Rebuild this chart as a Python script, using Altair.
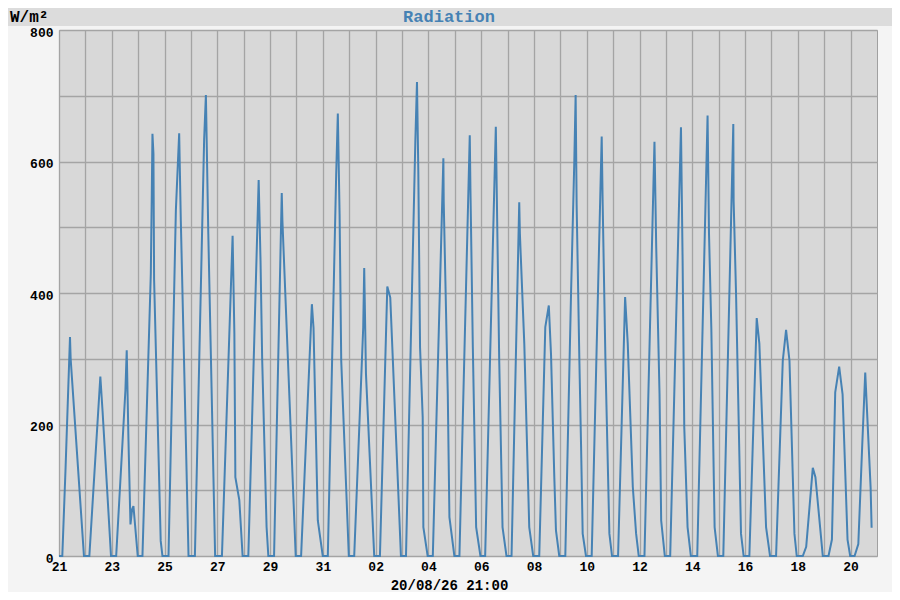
import pandas as pd
import altair as alt

alt.data_transformers.disable_max_rows()

start = "2026-07-21"
stamp = "20/08/26 21:00"
unit = "W/m²"
heading = "Radiation"

# one list per day (21 Jul .. 20 Aug): hour of day and W/m2 at each bend of the curve
day_hours = [
    [0, 3.0, 6.0, 10.0, 10.6, 22.7],                     # 21
    [3.6, 13.6, 15.6, 23.3],                             # 22
    [4.0, 12.4, 13.6, 15.2, 17.0, 18.5, 19.7, 23.6],     # 23
    [3.9, 11.5, 12.4, 13.0, 13.9, 14.5, 20.5, 22.1],     # 24
    [3.6, 10.3, 13.3, 14.8, 21.8],                       # 25
    [3.6, 12.0, 13.6, 15.8, 22.0],                       # 26
    [4.2, 13.9, 15.5, 16.4, 20.0, 23.0],                 # 27
    [4.2, 13.6, 15.3, 16.8, 20.8, 22.4],                 # 28
    [3.6, 10.6, 11.2, 23.3],                             # 29
    [4.2, 14.0, 15.5, 19.4, 23.9],                       # 30
    [4.5, 12.1, 13.6, 15.2, 16.7, 23.6],                 # 31
    [4.5, 12.7, 13.6, 15.2, 22.7],                       # 01
    [3.9, 10.6, 13.3, 23.0],                             # 02
    [3.6, 12.1, 13.6, 14.8, 16.4, 18.8, 19.4, 23.3],     # 03
    [4.0, 13.6, 13.9, 17.6, 19.1, 23.6],                 # 04
    [4.2, 13.6, 14.2, 16.4, 19.4, 23.3],                 # 05
    [3.6, 13.3, 16.4, 19.4, 23.0],                       # 06
    [3.6, 10.6, 11.2, 15.2, 19.7, 23.3],                 # 07
    [4.8, 10.3, 13.5, 15.5, 18.5, 20.0, 23.0],           # 08
    [4.5, 9.7, 12.7, 13.9, 14.8, 17.3, 18.8, 20.3, 23.3],  # 09
    [4.5, 13.6, 14.5, 17.0, 20.6, 23.0],                 # 10
    [4.5, 10.9, 13.3, 17.9, 20.9, 23.3],                 # 11
    [4.5, 13.6, 15.2, 18.2, 19.7, 23.0],                 # 12
    [3.9, 13.7, 15.2, 16.7, 19.7, 22.7],                 # 13
    [4.5, 13.9, 15.2, 17.3, 20.3, 23.3],                 # 14
    [4.2, 13.3, 13.6, 15.8, 20.3, 22.7],                 # 15
    [3.9, 10.6, 13.0, 19.1, 22.7],                       # 16
    [4.2, 10.3, 13.3, 16.4, 20.9, 23.0],                 # 17
    [4.5, 7.6, 13.6, 16.0, 22.7],                        # 18
    [3.9, 7.0, 10.0, 13.6, 16.7, 21.2, 23.6],            # 19
    [3.6, 7.0, 10.6, 13.3, 14.5, 18.2, 19.1],            # 20
]
day_values = [
    [0, 0, 135, 333, 300, 0],
    [0, 273, 221, 0],
    [0, 252, 313, 175, 48, 71, 76, 0],
    [0, 429, 551, 642, 612, 420, 23, 0],
    [0, 526, 643, 510, 0],
    [0, 633, 701, 490, 0],
    [0, 487, 339, 120, 85, 0],
    [0, 572, 449, 299, 44, 0],
    [0, 552, 510, 0],
    [0, 383, 347, 54, 0],
    [0, 580, 673, 520, 297, 0],
    [0, 348, 438, 277, 0],
    [0, 410, 393, 0],
    [0, 631, 721, 586, 317, 211, 44, 0],
    [0, 605, 540, 247, 59, 0],
    [0, 640, 560, 317, 44, 0],
    [0, 653, 297, 44, 0],
    [0, 538, 490, 323, 44, 0],
    [0, 348, 381, 307, 120, 39, 0],
    [0, 398, 601, 701, 535, 297, 171, 34, 0],
    [0, 638, 535, 297, 34, 0],
    [0, 394, 323, 105, 34, 0],
    [0, 630, 469, 247, 54, 0],
    [0, 652, 449, 196, 44, 0],
    [0, 670, 490, 348, 44, 0],
    [0, 657, 540, 399, 34, 0],
    [0, 362, 323, 44, 0],
    [0, 297, 344, 297, 34, 0],
    [0, 14, 134, 120, 0],
    [0, 25, 249, 288, 246, 25, 0],
    [0, 18, 170, 279, 236, 104, 43],
]

y_ticks = list(range(0, 801, 100))

rows = []
t0 = pd.Timestamp(start)
for i, (hh, vv) in enumerate(zip(day_hours, day_values)):
    for h, v in zip(hh, vv):
        rows.append({'time': t0 + pd.Timedelta(days=i, hours=h), 'radiation': v})
df = pd.DataFrame(rows)

days = pd.date_range(start, periods=31, freq='D')
tick_days = [alt.DateTime(year=d.year, month=d.month, date=d.day) for d in days]
end = t0 + pd.Timedelta(days=31)
x_domain = [alt.DateTime(year=t0.year, month=t0.month, date=t0.day),
            alt.DateTime(year=end.year, month=end.month, date=end.day)]

mono = 'Liberation Mono'
W, H = 818, 526

line = alt.Chart(df).mark_line(color='steelblue', strokeWidth=2).encode(
    x=alt.X('time:T', scale=alt.Scale(domain=x_domain, nice=False),
            axis=alt.Axis(values=tick_days, title=stamp,
                          labelExpr="(month(datum.value) == 6 ? date(datum.value) % 2 == 1 : date(datum.value) % 2 == 0) ? timeFormat(datum.value, '%d') : ''",
                          labelFlush=False, labelPadding=4, labelOverlap=False,
                          titleX=390, titleY=33, titleAlign='center', titleBaseline='alphabetic',
                          titleFontSize=14)),
    y=alt.Y('radiation:Q', scale=alt.Scale(domain=[0, 800], nice=False),
            axis=alt.Axis(values=y_ticks, labelExpr="datum.value % 200 == 0 ? datum.label : ''",
                          title=None, labelPadding=6, labelOffset=2,
                          labelFlush=False, labelOverlap=False))
)

one = pd.DataFrame({'k': [0]})
band = alt.Chart(one).mark_rect(color='#dcdcdc').encode(
    x=alt.value(-51), x2=alt.value(W + 15), y=alt.value(-22), y2=alt.value(-4))
head = alt.Chart(one).mark_text(text=heading, font=mono, fontWeight='bold', fontSize=17,
                                color='steelblue', align='center', baseline='alphabetic').encode(
    x=alt.value(390), y=alt.value(-8))
ylab = alt.Chart(one).mark_text(text=unit, font=mono, fontWeight='bold', fontSize=16,
                                color='black', align='left', baseline='alphabetic').encode(
    x=alt.value(-49), y=alt.value(-8.5))

chart = alt.layer(band, line, head, ylab).properties(
    width=W, height=H,
    padding={'left': 51, 'top': 22, 'right': 15, 'bottom': 36},
    autosize=alt.AutoSizeParams(type='none'),
    background='#f4f4f4'
).configure_view(
    fill='#d8d8d8', stroke='#a0a0a0', strokeWidth=1
).configure_axis(
    labelFont=mono, labelFontWeight='bold', labelFontSize=13, labelColor='black',
    titleFont=mono, titleFontWeight='bold', titleColor='black',
    gridColor='#a4a4a4', gridWidth=1.3, domain=False, ticks=False, tickSize=0
)

chart.save("out.html", embed_options={"renderer": "svg", "actions": False})
